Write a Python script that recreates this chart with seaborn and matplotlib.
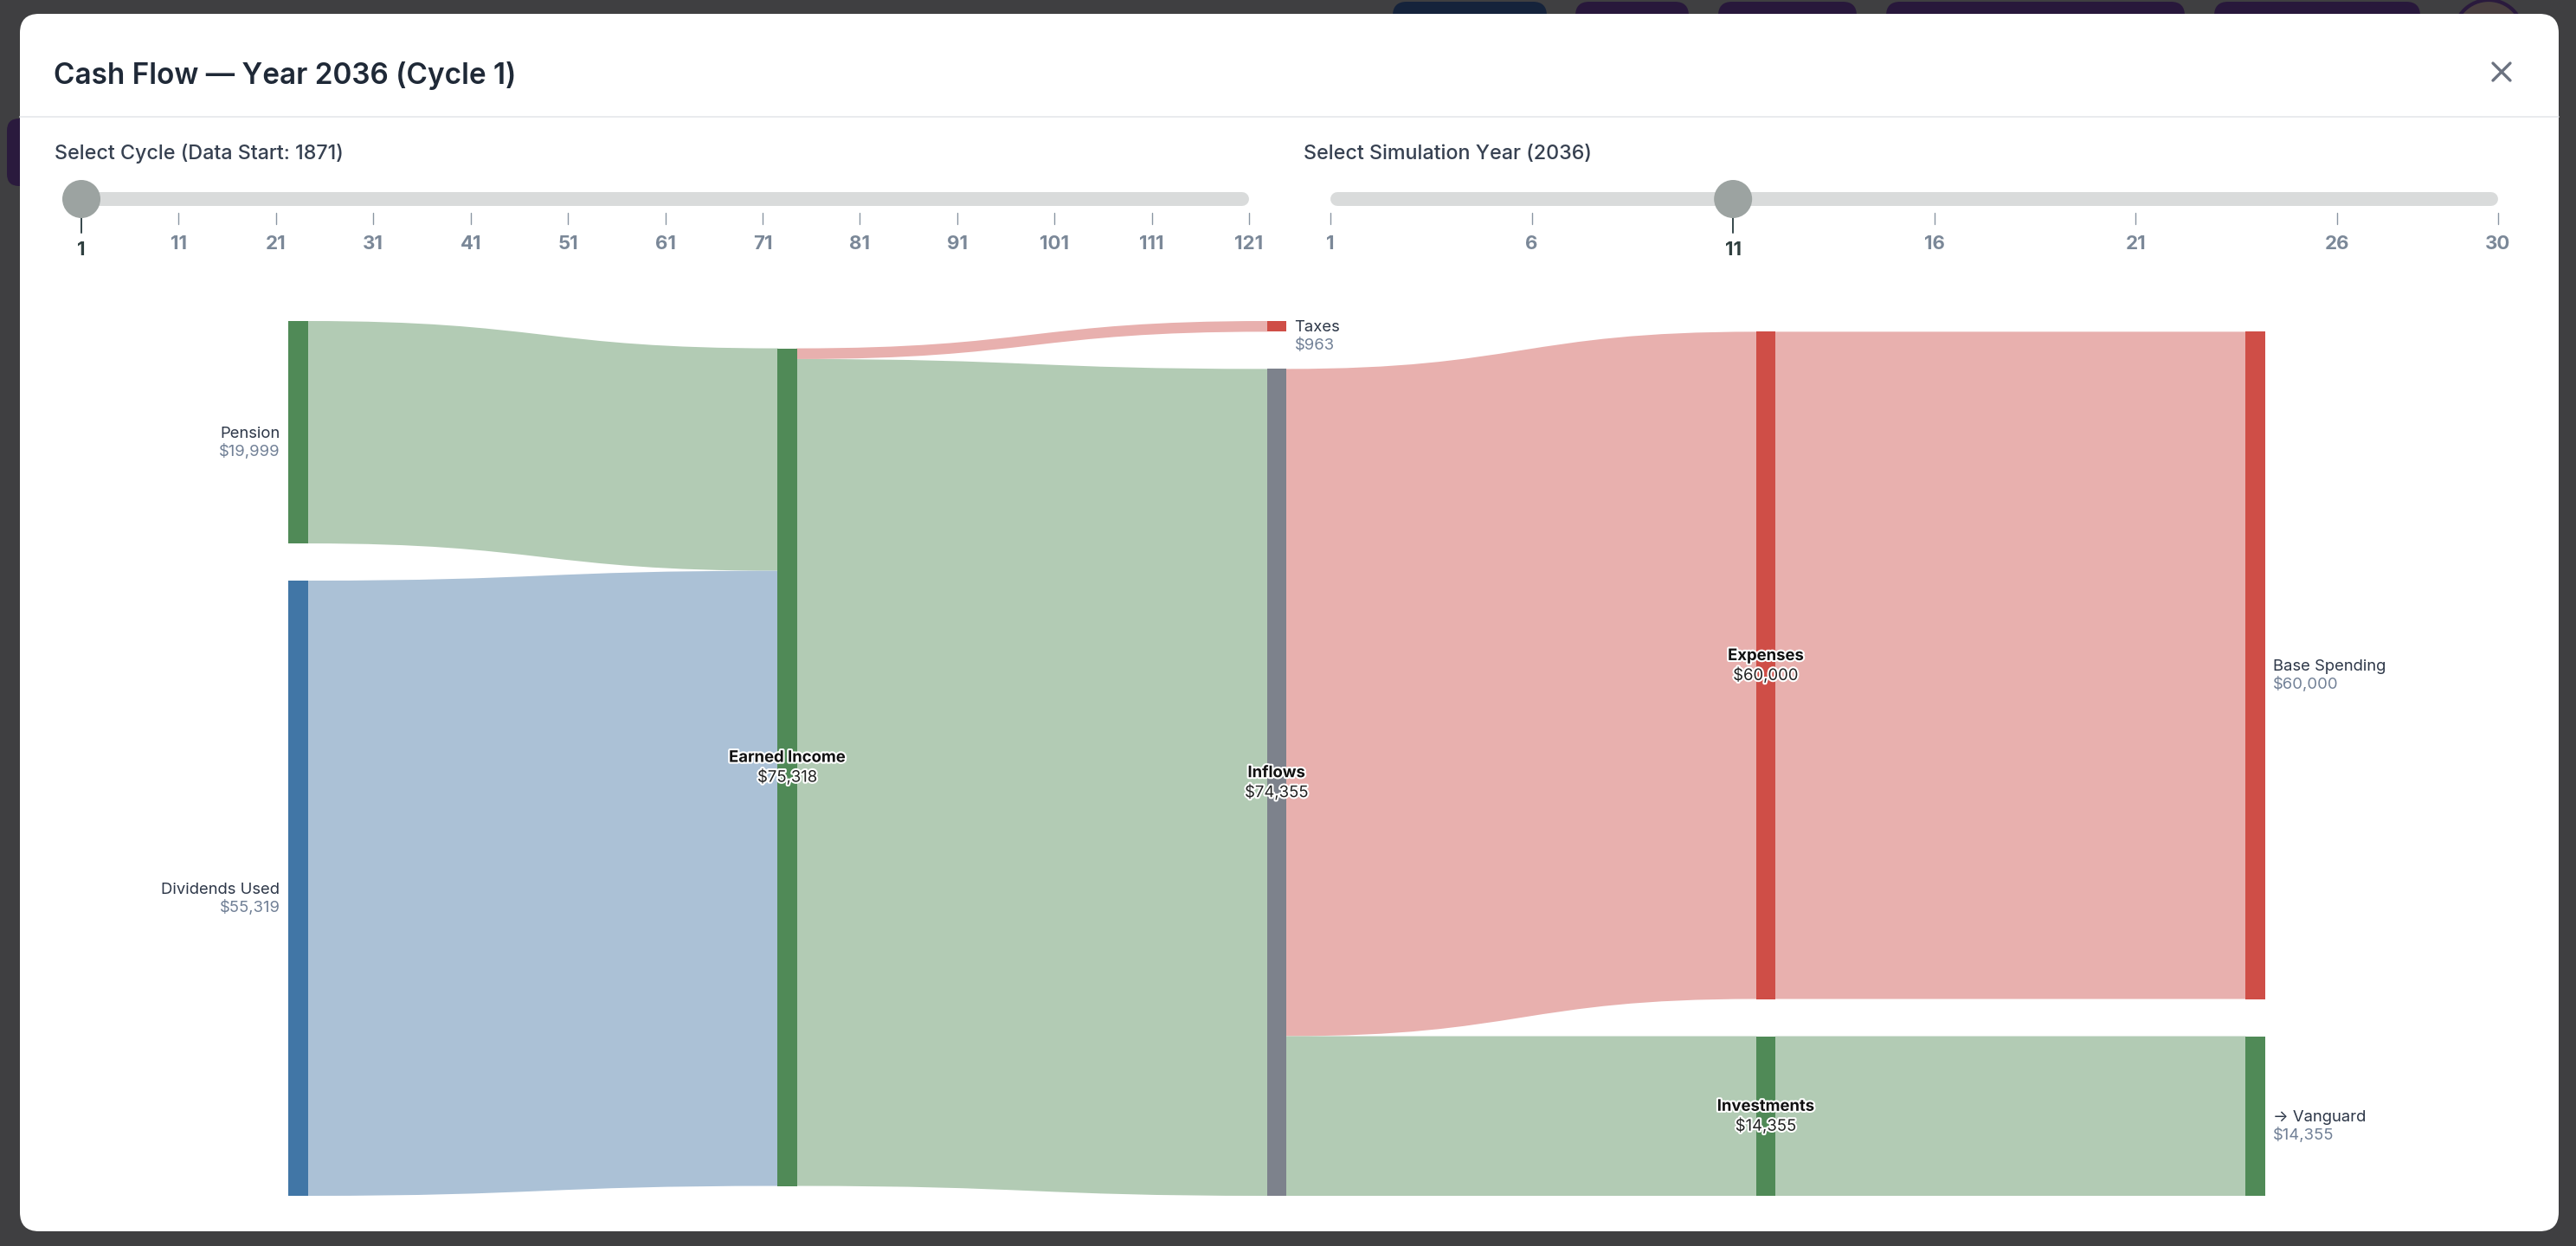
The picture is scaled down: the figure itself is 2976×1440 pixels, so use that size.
import numpy as np
import pandas as pd
import seaborn as sns
import matplotlib.pyplot as plt
from matplotlib.path import Path
from matplotlib.patches import PathPatch, FancyBboxPatch, Circle
import matplotlib.patheffects as pe

# header / sliders
title = "Cash Flow — Year 2036 (Cycle 1)"
cycle_label = "Select Cycle (Data Start: 1871)"
cycle_ticks = [1, 11, 21, 31, 41, 51, 61, 71, 81, 91, 101, 111, 121]
cycle_sel = 1
year_label = "Select Simulation Year (2036)"
year_ticks = [1, 6, 11, 16, 21, 26, 30]
year_sel = 11

# sankey nodes and links
node_names = ["Pension", "Dividends Used", "Earned Income", "Taxes", "Inflows",
              "Expenses", "Investments", "Base Spending", "→ Vanguard"]
node_kind = ["income", "dividend", "income", "expense", "flow",
             "expense", "income", "expense", "income"]
link_src = ["Pension", "Dividends Used", "Earned Income", "Earned Income",
            "Inflows", "Inflows", "Expenses", "Investments"]
link_tgt = ["Earned Income", "Earned Income", "Taxes", "Inflows",
            "Expenses", "Investments", "Base Spending", "→ Vanguard"]
link_val = [19999, 55319, 963, 74355, 60000, 14355, 60000, 14355]
link_kind = ["income", "dividend", "expense", "income",
             "expense", "income", "expense", "income"]

node_pal = {"income": "#508a57", "dividend": "#4176a6", "expense": "#cf4e47", "flow": "#7d828c"}
link_pal = {"income": "#b2cbb4", "dividend": "#abc1d6", "expense": "#e8b0ae"}

W, H = 2976, 1440
sns.set_theme(style="white")
plt.rcParams['font.family'] = ['Inter', 'DejaVu Sans']

fig = plt.figure(figsize=(W / 100, H / 100), dpi=100)
fig.patch.set_facecolor('#3f3f41')
ax = fig.add_axes([0, 0, 1, 1])
ax.set_xlim(0, W)
ax.set_ylim(H, 0)
ax.axis('off')

# app chrome behind the modal
for xa, xb, c in [(1609, 1787, '#15233b'), (1820, 1951, '#28183b'), (1985, 2145, '#28183b'),
                  (2179, 2524, '#28183b'), (2558, 2796, '#28183b')]:
    ax.add_patch(FancyBboxPatch((xa, 2), xb - xa, 60, boxstyle="round,pad=0,rounding_size=16",
                                fc=c, ec='none'))
ax.add_patch(Circle((2875, 40), 40, fc='#4a4040', ec='#2a1a3d', lw=3))
ax.add_patch(FancyBboxPatch((8, 137), 80, 78, boxstyle="round,pad=0,rounding_size=14",
                            fc='#2a1a3d', ec='none'))

# modal
ax.add_patch(FancyBboxPatch((23, 16), 2933, 1407, boxstyle="round,pad=0,rounding_size=22",
                            fc='white', ec='none', zorder=1))
ax.text(62, 97, title, fontsize=24, fontweight='semibold', color='#1f2937', va='baseline', zorder=3)
ax.plot([2880, 2900], [73, 93], color='#6b7280', lw=2.4, zorder=3, solid_capstyle='round')
ax.plot([2880, 2900], [93, 73], color='#6b7280', lw=2.4, zorder=3, solid_capstyle='round')
ax.plot([23, 2956], [135, 135], color='#e5e7eb', lw=1.2, zorder=2)


def slider(xa, xb, ticks, sel, label):
    lo, hi = ticks[0], ticks[-1]
    pos = lambda v: xa + (v - lo) / (hi - lo) * (xb - xa)
    ax.text(xa - 31, 184, label, fontsize=16.8, fontweight='medium', color='#374151',
            va='baseline', zorder=3)
    ax.plot([xa + 8, xb - 8], [230, 230], lw=11.5, color='#d9dbdb',
            solid_capstyle='round', zorder=2)
    for t in ticks:
        x = pos(t)
        if t == sel:
            ax.plot([x, x], [252, 269], color='#35464a', lw=1.4, zorder=2)
            ax.text(x, 295, str(t), ha='center', va='baseline', fontsize=16,
                    fontweight='bold', color='#2f3f3f', zorder=3)
        else:
            ax.plot([x, x], [246, 259], color='#8a96a3', lw=1, zorder=2)
            ax.text(x, 288, str(t), ha='center', va='baseline', fontsize=16,
                    fontweight='bold', color='#7b8898', zorder=3)
    ax.add_patch(Circle((pos(sel), 230), 22, fc='#9ca3a1', ec='none', zorder=4))


slider(94, 1443, cycle_ticks, cycle_sel, cycle_label)
slider(1537, 2886, year_ticks, year_sel, year_label)

# sankey layout
sx0, sx1, sy0, sy1 = 333.5, 2616, 371, 1382
nw, pad = 21.5, 43

links = pd.DataFrame({"src": link_src, "tgt": link_tgt, "val": link_val, "kind": link_kind})
nodes = pd.DataFrame({"name": node_names, "kind": node_kind}).set_index("name")
nodes["vin"] = links.groupby("tgt")["val"].sum()
nodes["vout"] = links.groupby("src")["val"].sum()
nodes = nodes.fillna(0)
nodes["value"] = nodes[["vin", "vout"]].max(axis=1)

depth = {n: 0 for n in node_names}
for _ in range(len(node_names)):
    for s, t in zip(link_src, link_tgt):
        depth[t] = max(depth[t], depth[s] + 1)
nodes["col"] = pd.Series(depth)
ncol = nodes["col"].max() + 1

ky = min((sy1 - sy0 - (len(g) - 1) * pad) / g["value"].sum() for _, g in nodes.groupby("col"))
nodes["h"] = nodes["value"] * ky
nodes["x0"] = sx0 + nodes["col"] * (sx1 - sx0 - nw) / (ncol - 1)
h = nodes["h"].to_dict()

y0 = {}
for c in range(ncol):
    members = [n for n in node_names if depth[n] == c]
    if c == 0:
        y = sy0
        for n in members:
            y0[n] = y
            y += h[n] + pad
        continue
    for n in members:
        num = den = 0
        for i, (s, t, v) in enumerate(zip(link_src, link_tgt, link_val)):
            if t != n:
                continue
            off_s = sum(link_val[j] for j in range(i) if link_src[j] == s) * ky
            off_t = sum(link_val[j] for j in range(i) if link_tgt[j] == n) * ky
            num += (y0[s] + off_s - off_t) * v
            den += v
        y0[n] = num / den
    members.sort(key=lambda n: y0[n])
    y = sy0
    for n in members:
        y0[n] = max(y0[n], y)
        y = y0[n] + h[n] + pad
    y = sy1
    for n in reversed(members):
        if y0[n] + h[n] > y:
            y0[n] = y - h[n]
        y = y0[n] - pad
nodes["y0"] = pd.Series(y0)

# link end positions
out_off = {n: 0.0 for n in node_names}
in_off = {n: 0.0 for n in node_names}
ls, lt = {}, {}
for i in sorted(range(len(links)), key=lambda i: y0[link_tgt[i]]):
    s = link_src[i]
    ls[i] = y0[s] + out_off[s]
    out_off[s] += link_val[i] * ky
for i in sorted(range(len(links)), key=lambda i: y0[link_src[i]]):
    t = link_tgt[i]
    lt[i] = y0[t] + in_off[t]
    in_off[t] += link_val[i] * ky

for i, row in links.iterrows():
    w = row["val"] * ky
    xs = nodes.loc[row["src"], "x0"] + nw
    xt = nodes.loc[row["tgt"], "x0"]
    xm = (xs + xt) / 2
    a0, b0 = ls[i], lt[i]
    verts = [(xs, a0), (xm, a0), (xm, b0), (xt, b0), (xt, b0 + w),
             (xm, b0 + w), (xm, a0 + w), (xs, a0 + w), (xs, a0)]
    codes = [Path.MOVETO, Path.CURVE4, Path.CURVE4, Path.CURVE4, Path.LINETO,
             Path.CURVE4, Path.CURVE4, Path.CURVE4, Path.CLOSEPOLY]
    ax.add_patch(PathPatch(Path(verts, codes), fc=link_pal[row["kind"]], ec='none', lw=0, zorder=2))

ax.bar(nodes["x0"] - 0.5, nodes["h"], width=nw + 1, bottom=nodes["y0"], align='edge',
       color=[node_pal[k] for k in nodes["kind"]], linewidth=0, edgecolor='none', zorder=3)

halo = [pe.withStroke(linewidth=3, foreground='white')]
fs = 13.3
for n, r in nodes.iterrows():
    cy = r["y0"] + r["h"] / 2
    val = f"${int(r['value']):,}"
    if r["vin"] == 0:
        ax.text(r["x0"] - 10, cy + 6, n, ha='right', va='baseline', fontsize=fs,
                color='#2d3748', zorder=4)
        ax.text(r["x0"] - 10, cy + 27, val, ha='right', va='baseline', fontsize=fs,
                color='#718096', zorder=4)
    elif r["vout"] == 0:
        ax.text(r["x0"] + nw + 10, cy + 6, n, ha='left', va='baseline', fontsize=fs,
                color='#2d3748', zorder=4)
        ax.text(r["x0"] + nw + 10, cy + 27, val, ha='left', va='baseline', fontsize=fs,
                color='#718096', zorder=4)
    else:
        xc = r["x0"] + nw / 2
        ax.text(xc, cy - 6, n, ha='center', va='baseline', fontsize=fs, fontweight='bold',
                color='#111111', zorder=5, path_effects=halo)
        ax.text(xc, cy + 17, val, ha='center', va='baseline', fontsize=fs,
                color='#222222', zorder=5, path_effects=halo)

fig.savefig("out.png", dpi=100, facecolor=fig.get_facecolor())
